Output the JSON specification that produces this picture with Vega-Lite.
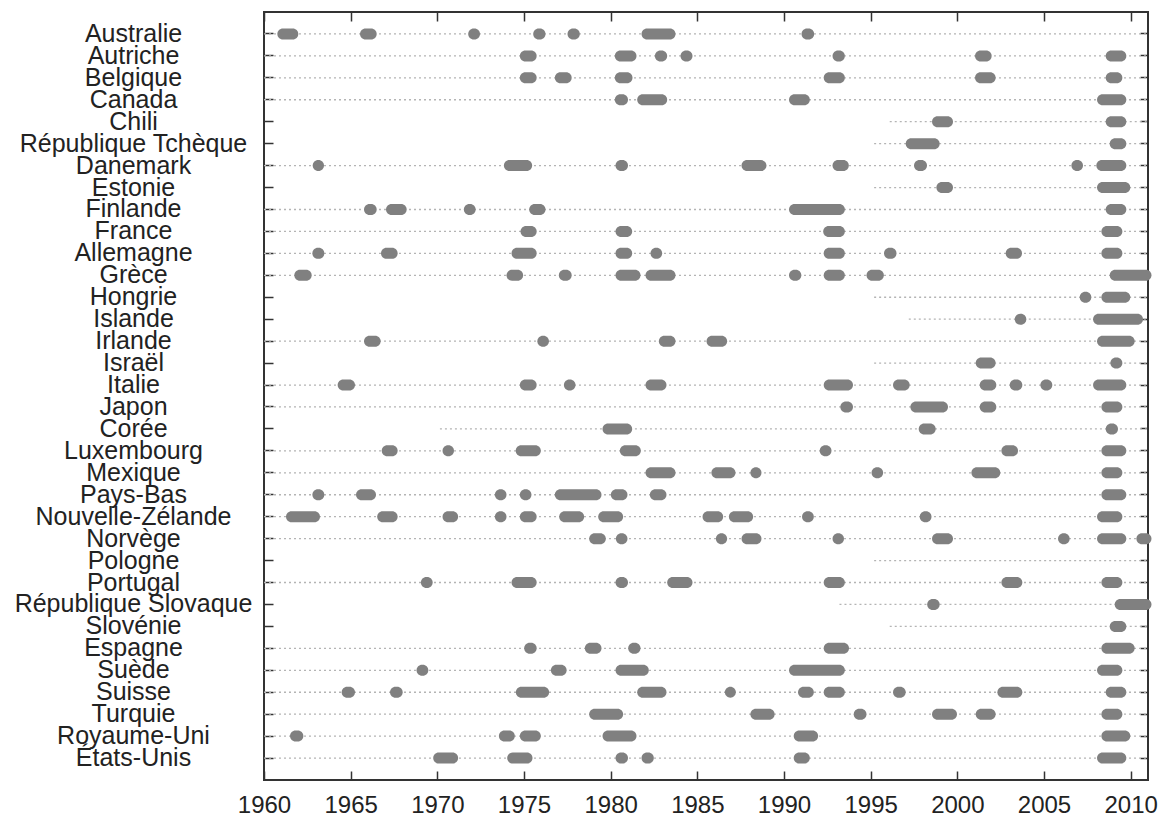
{
  "$schema": "https://vega.github.io/schema/vega-lite/v6.json",
  "width": 884,
  "height": 768,
  "autosize": {"type": "none"},
  "padding": {"left": 264, "top": 12, "right": 13, "bottom": 36},
  "background": "white",
  "config": {
    "font": "Liberation Sans",
    "view": {"stroke": "#333333", "strokeWidth": 2},
    "axis": {"grid": false, "domain": false, "title": null, "tickColor": "#333333", "tickWidth": 1.5, "labelColor": "#222222", "labelFont": "Liberation Sans"}
  },
  "datasets": {
    "avail": [
      {"country": "Australie", "start": 1960, "end": 2011},
      {"country": "Autriche", "start": 1960, "end": 2011},
      {"country": "Belgique", "start": 1960, "end": 2011},
      {"country": "Canada", "start": 1960, "end": 2011},
      {"country": "Chili", "start": 1996.1, "end": 2011},
      {"country": "République Tchèque", "start": 1995.2, "end": 2011},
      {"country": "Danemark", "start": 1960, "end": 2011},
      {"country": "Estonie", "start": 1995.2, "end": 2011},
      {"country": "Finlande", "start": 1960, "end": 2011},
      {"country": "France", "start": 1960, "end": 2011},
      {"country": "Allemagne", "start": 1960, "end": 2011},
      {"country": "Grèce", "start": 1960, "end": 2011},
      {"country": "Hongrie", "start": 1995.2, "end": 2011},
      {"country": "Islande", "start": 1997.2, "end": 2011},
      {"country": "Irlande", "start": 1960, "end": 2011},
      {"country": "Israël", "start": 1995.2, "end": 2011},
      {"country": "Italie", "start": 1960, "end": 2011},
      {"country": "Japon", "start": 1960, "end": 2011},
      {"country": "Corée", "start": 1970.15, "end": 2011},
      {"country": "Luxembourg", "start": 1960, "end": 2011},
      {"country": "Mexique", "start": 1960, "end": 2011},
      {"country": "Pays-Bas", "start": 1960, "end": 2011},
      {"country": "Nouvelle-Zélande", "start": 1960, "end": 2011},
      {"country": "Norvège", "start": 1960, "end": 2011},
      {"country": "Pologne", "start": 1995.2, "end": 2011},
      {"country": "Portugal", "start": 1960, "end": 2011},
      {"country": "République Slovaque", "start": 1993.2, "end": 2011},
      {"country": "Slovénie", "start": 1996.1, "end": 2011},
      {"country": "Espagne", "start": 1960, "end": 2011},
      {"country": "Suède", "start": 1960, "end": 2011},
      {"country": "Suisse", "start": 1960, "end": 2011},
      {"country": "Turquie", "start": 1960, "end": 2011},
      {"country": "Royaume-Uni", "start": 1960, "end": 2011},
      {"country": "États-Unis", "start": 1960, "end": 2011}
    ],
    "rec": [
      {"country": "Australie", "start": 1960.77, "end": 1961.98},
      {"country": "Australie", "start": 1965.54, "end": 1966.5},
      {"country": "Australie", "start": 1971.78, "end": 1972.46},
      {"country": "Australie", "start": 1975.53, "end": 1976.24},
      {"country": "Australie", "start": 1977.51, "end": 1978.22},
      {"country": "Australie", "start": 1981.78, "end": 1983.74},
      {"country": "Australie", "start": 1991.01, "end": 1991.74},
      {"country": "Autriche", "start": 1974.76, "end": 1975.73},
      {"country": "Autriche", "start": 1980.24, "end": 1981.49},
      {"country": "Autriche", "start": 1982.55, "end": 1983.26},
      {"country": "Autriche", "start": 1984.03, "end": 1984.72},
      {"country": "Autriche", "start": 1992.8, "end": 1993.51},
      {"country": "Autriche", "start": 2001.02, "end": 2001.98},
      {"country": "Autriche", "start": 2008.56, "end": 2009.75},
      {"country": "Belgique", "start": 1974.76, "end": 1975.73},
      {"country": "Belgique", "start": 1976.78, "end": 1977.75},
      {"country": "Belgique", "start": 1980.24, "end": 1981.26},
      {"country": "Belgique", "start": 1992.29, "end": 1993.51},
      {"country": "Belgique", "start": 2001.02, "end": 2002.21},
      {"country": "Belgique", "start": 2008.56, "end": 2009.52},
      {"country": "Canada", "start": 1980.24, "end": 1981.0},
      {"country": "Canada", "start": 1981.53, "end": 1983.26},
      {"country": "Canada", "start": 1990.29, "end": 1991.49},
      {"country": "Canada", "start": 2008.06, "end": 2009.75},
      {"country": "Chili", "start": 1998.54, "end": 1999.75},
      {"country": "Chili", "start": 2008.56, "end": 2009.75},
      {"country": "République Tchèque", "start": 1997.02, "end": 1998.98},
      {"country": "République Tchèque", "start": 2008.79, "end": 2009.75},
      {"country": "Danemark", "start": 1962.81, "end": 1963.46},
      {"country": "Danemark", "start": 1973.84, "end": 1975.47},
      {"country": "Danemark", "start": 1980.28, "end": 1981.0},
      {"country": "Danemark", "start": 1987.55, "end": 1988.99},
      {"country": "Danemark", "start": 1992.8, "end": 1993.74},
      {"country": "Danemark", "start": 1997.5, "end": 1998.25},
      {"country": "Danemark", "start": 2006.58, "end": 2007.25},
      {"country": "Danemark", "start": 2008.02, "end": 2009.75},
      {"country": "Estonie", "start": 1998.79, "end": 1999.75},
      {"country": "Estonie", "start": 2008.06, "end": 2009.98},
      {"country": "Finlande", "start": 1965.77, "end": 1966.5},
      {"country": "Finlande", "start": 1967.04, "end": 1968.23},
      {"country": "Finlande", "start": 1971.53, "end": 1972.21},
      {"country": "Finlande", "start": 1975.3, "end": 1976.24},
      {"country": "Finlande", "start": 1990.29, "end": 1993.51},
      {"country": "Finlande", "start": 2008.56, "end": 2009.75},
      {"country": "France", "start": 1974.8, "end": 1975.73},
      {"country": "France", "start": 1980.28, "end": 1981.24},
      {"country": "France", "start": 1992.26, "end": 1993.51},
      {"country": "France", "start": 2008.31, "end": 2009.52},
      {"country": "Allemagne", "start": 1962.79, "end": 1963.48},
      {"country": "Allemagne", "start": 1966.75, "end": 1967.71},
      {"country": "Allemagne", "start": 1974.28, "end": 1975.73},
      {"country": "Allemagne", "start": 1980.28, "end": 1981.24},
      {"country": "Allemagne", "start": 1982.3, "end": 1982.97},
      {"country": "Allemagne", "start": 1992.29, "end": 1993.51},
      {"country": "Allemagne", "start": 1995.77, "end": 1996.49},
      {"country": "Allemagne", "start": 2002.79, "end": 2003.73},
      {"country": "Allemagne", "start": 2008.31, "end": 2009.52},
      {"country": "Grèce", "start": 1961.75, "end": 1962.75},
      {"country": "Grèce", "start": 1973.99, "end": 1974.95},
      {"country": "Grèce", "start": 1977.01, "end": 1977.75},
      {"country": "Grèce", "start": 1980.28, "end": 1981.72},
      {"country": "Grèce", "start": 1982.01, "end": 1983.74},
      {"country": "Grèce", "start": 1990.29, "end": 1991.0},
      {"country": "Grèce", "start": 1992.29, "end": 1993.51},
      {"country": "Grèce", "start": 1994.76, "end": 1995.76},
      {"country": "Grèce", "start": 2008.79, "end": 2011.2},
      {"country": "Hongrie", "start": 2007.06, "end": 2007.73},
      {"country": "Hongrie", "start": 2008.31, "end": 2009.98},
      {"country": "Islande", "start": 2003.31, "end": 2003.98},
      {"country": "Islande", "start": 2007.83, "end": 2010.71},
      {"country": "Irlande", "start": 1965.77, "end": 1966.73},
      {"country": "Irlande", "start": 1975.77, "end": 1976.44},
      {"country": "Irlande", "start": 1982.78, "end": 1983.74},
      {"country": "Irlande", "start": 1985.53, "end": 1986.72},
      {"country": "Irlande", "start": 2008.06, "end": 2010.23},
      {"country": "Israël", "start": 2001.06, "end": 2002.21},
      {"country": "Israël", "start": 2008.83, "end": 2009.52},
      {"country": "Italie", "start": 1964.25, "end": 1965.25},
      {"country": "Italie", "start": 1974.76, "end": 1975.73},
      {"country": "Italie", "start": 1977.3, "end": 1977.97},
      {"country": "Italie", "start": 1982.01, "end": 1983.22},
      {"country": "Italie", "start": 1992.29, "end": 1993.98},
      {"country": "Italie", "start": 1996.29, "end": 1997.25},
      {"country": "Italie", "start": 2001.29, "end": 2002.25},
      {"country": "Italie", "start": 2003.02, "end": 2003.75},
      {"country": "Italie", "start": 2004.79, "end": 2005.48},
      {"country": "Italie", "start": 2007.83, "end": 2009.75},
      {"country": "Japon", "start": 1993.25, "end": 1993.98},
      {"country": "Japon", "start": 1997.29, "end": 1999.46},
      {"country": "Japon", "start": 2001.29, "end": 2002.25},
      {"country": "Japon", "start": 2008.31, "end": 2009.52},
      {"country": "Corée", "start": 1979.53, "end": 1981.24},
      {"country": "Corée", "start": 1997.77, "end": 1998.75},
      {"country": "Corée", "start": 2008.56, "end": 2009.27},
      {"country": "Luxembourg", "start": 1966.79, "end": 1967.71},
      {"country": "Luxembourg", "start": 1970.3, "end": 1970.96},
      {"country": "Luxembourg", "start": 1974.52, "end": 1975.97},
      {"country": "Luxembourg", "start": 1980.53, "end": 1981.74},
      {"country": "Luxembourg", "start": 1992.06, "end": 1992.74},
      {"country": "Luxembourg", "start": 2002.54, "end": 2003.5},
      {"country": "Luxembourg", "start": 2008.31, "end": 2009.75},
      {"country": "Mexique", "start": 1982.01, "end": 1983.74},
      {"country": "Mexique", "start": 1985.81, "end": 1987.2},
      {"country": "Mexique", "start": 1988.06, "end": 1988.7},
      {"country": "Mexique", "start": 1995.05, "end": 1995.72},
      {"country": "Mexique", "start": 2000.81, "end": 2002.48},
      {"country": "Mexique", "start": 2008.31, "end": 2009.52},
      {"country": "Pays-Bas", "start": 1962.79, "end": 1963.48},
      {"country": "Pays-Bas", "start": 1965.31, "end": 1966.46},
      {"country": "Pays-Bas", "start": 1973.32, "end": 1973.99},
      {"country": "Pays-Bas", "start": 1974.76, "end": 1975.43},
      {"country": "Pays-Bas", "start": 1976.78, "end": 1979.47},
      {"country": "Pays-Bas", "start": 1980.01, "end": 1980.97},
      {"country": "Pays-Bas", "start": 1982.26, "end": 1983.22},
      {"country": "Pays-Bas", "start": 2008.31, "end": 2009.75},
      {"country": "Nouvelle-Zélande", "start": 1961.27, "end": 1963.23},
      {"country": "Nouvelle-Zélande", "start": 1966.53, "end": 1967.71},
      {"country": "Nouvelle-Zélande", "start": 1970.3, "end": 1971.2},
      {"country": "Nouvelle-Zélande", "start": 1973.32, "end": 1973.99},
      {"country": "Nouvelle-Zélande", "start": 1974.76, "end": 1975.73},
      {"country": "Nouvelle-Zélande", "start": 1977.03, "end": 1978.47},
      {"country": "Nouvelle-Zélande", "start": 1979.28, "end": 1980.72},
      {"country": "Nouvelle-Zélande", "start": 1985.3, "end": 1986.49},
      {"country": "Nouvelle-Zélande", "start": 1986.82, "end": 1988.22},
      {"country": "Nouvelle-Zélande", "start": 1991.04, "end": 1991.72},
      {"country": "Nouvelle-Zélande", "start": 1997.83, "end": 1998.51},
      {"country": "Nouvelle-Zélande", "start": 2008.06, "end": 2009.52},
      {"country": "Norvège", "start": 1978.76, "end": 1979.72},
      {"country": "Norvège", "start": 1980.3, "end": 1980.97},
      {"country": "Norvège", "start": 1986.07, "end": 1986.72},
      {"country": "Norvège", "start": 1987.55, "end": 1988.7},
      {"country": "Norvège", "start": 1992.8, "end": 1993.46},
      {"country": "Norvège", "start": 1998.54, "end": 1999.75},
      {"country": "Norvège", "start": 2005.81, "end": 2006.48},
      {"country": "Norvège", "start": 2008.06, "end": 2009.75},
      {"country": "Norvège", "start": 2010.33, "end": 2011.2},
      {"country": "Portugal", "start": 1969.05, "end": 1969.73},
      {"country": "Portugal", "start": 1974.28, "end": 1975.73},
      {"country": "Portugal", "start": 1980.28, "end": 1981.0},
      {"country": "Portugal", "start": 1983.26, "end": 1984.72},
      {"country": "Portugal", "start": 1992.29, "end": 1993.51},
      {"country": "Portugal", "start": 2002.54, "end": 2003.75},
      {"country": "Portugal", "start": 2008.31, "end": 2009.52},
      {"country": "République Slovaque", "start": 1998.26, "end": 1998.98},
      {"country": "République Slovaque", "start": 2009.08, "end": 2011.2},
      {"country": "Slovénie", "start": 2008.79, "end": 2009.75},
      {"country": "Espagne", "start": 1975.01, "end": 1975.73},
      {"country": "Espagne", "start": 1978.51, "end": 1979.47},
      {"country": "Espagne", "start": 1981.01, "end": 1981.72},
      {"country": "Espagne", "start": 1992.29, "end": 1993.75},
      {"country": "Espagne", "start": 2008.31, "end": 2010.23},
      {"country": "Suède", "start": 1968.8, "end": 1969.48},
      {"country": "Suède", "start": 1976.55, "end": 1977.46},
      {"country": "Suède", "start": 1980.28, "end": 1982.2},
      {"country": "Suède", "start": 1990.29, "end": 1993.51},
      {"country": "Suède", "start": 2008.06, "end": 2009.52},
      {"country": "Suisse", "start": 1964.48, "end": 1965.25},
      {"country": "Suisse", "start": 1967.27, "end": 1968.0},
      {"country": "Suisse", "start": 1974.53, "end": 1976.45},
      {"country": "Suisse", "start": 1981.53, "end": 1983.22},
      {"country": "Suisse", "start": 1986.59, "end": 1987.22},
      {"country": "Suisse", "start": 1990.81, "end": 1991.72},
      {"country": "Suisse", "start": 1992.29, "end": 1993.51},
      {"country": "Suisse", "start": 1996.29, "end": 1997.02},
      {"country": "Suisse", "start": 2002.31, "end": 2003.75},
      {"country": "Suisse", "start": 2008.56, "end": 2009.75},
      {"country": "Turquie", "start": 1978.76, "end": 1980.72},
      {"country": "Turquie", "start": 1988.06, "end": 1989.46},
      {"country": "Turquie", "start": 1994.02, "end": 1994.76},
      {"country": "Turquie", "start": 1998.54, "end": 1999.98},
      {"country": "Turquie", "start": 2001.06, "end": 2002.21},
      {"country": "Turquie", "start": 2008.31, "end": 2009.52},
      {"country": "Royaume-Uni", "start": 1961.5, "end": 1962.27},
      {"country": "Royaume-Uni", "start": 1973.55, "end": 1974.47},
      {"country": "Royaume-Uni", "start": 1974.76, "end": 1975.97},
      {"country": "Royaume-Uni", "start": 1979.53, "end": 1981.49},
      {"country": "Royaume-Uni", "start": 1990.56, "end": 1991.97},
      {"country": "Royaume-Uni", "start": 2008.31, "end": 2009.98},
      {"country": "États-Unis", "start": 1969.76, "end": 1971.2},
      {"country": "États-Unis", "start": 1974.03, "end": 1975.49},
      {"country": "États-Unis", "start": 1980.28, "end": 1981.0},
      {"country": "États-Unis", "start": 1981.78, "end": 1982.49},
      {"country": "États-Unis", "start": 1990.56, "end": 1991.49},
      {"country": "États-Unis", "start": 2008.06, "end": 2009.75}
    ]
  },
  "layer": [
    {
      "data": {"name": "avail"},
      "mark": {"type": "rule", "color": "#b4b4b4", "strokeWidth": 1.3, "strokeDash": [2, 3]},
      "encoding": {
        "y": {
          "field": "country", "type": "nominal",
          "sort": ["Australie","Autriche","Belgique","Canada","Chili","République Tchèque","Danemark","Estonie","Finlande","France","Allemagne","Grèce","Hongrie","Islande","Irlande","Israël","Italie","Japon","Corée","Luxembourg","Mexique","Pays-Bas","Nouvelle-Zélande","Norvège","Pologne","Portugal","République Slovaque","Slovénie","Espagne","Suède","Suisse","Turquie","Royaume-Uni","États-Unis"],
          "scale": {"paddingInner": 0, "paddingOuter": 0.5},
          "axis": {"orient": "left", "tickSize": -9, "labelFontSize": 25, "labelAlign": "center", "labelBaseline": "middle", "labelPadding": 140, "labelLimit": 400}
        },
        "x": {
          "field": "start", "type": "quantitative",
          "scale": {"domain": [1960, 2011], "nice": false, "zero": false},
          "axis": {"orient": "bottom", "values": [1960,1965,1970,1975,1980,1985,1990,1995,2000,2005,2010], "format": "d", "tickSize": -9, "labelFontSize": 24, "labelPadding": 22, "labelFlush": false, "labelOverlap": false}
        },
        "x2": {"field": "end"}
      }
    },
    {
      "data": {"name": "rec"},
      "mark": {"type": "bar", "height": 11, "cornerRadius": 5.5, "color": "#808080"},
      "encoding": {
        "y": {
          "field": "country", "type": "nominal",
          "sort": ["Australie","Autriche","Belgique","Canada","Chili","République Tchèque","Danemark","Estonie","Finlande","France","Allemagne","Grèce","Hongrie","Islande","Irlande","Israël","Italie","Japon","Corée","Luxembourg","Mexique","Pays-Bas","Nouvelle-Zélande","Norvège","Pologne","Portugal","République Slovaque","Slovénie","Espagne","Suède","Suisse","Turquie","Royaume-Uni","États-Unis"],
          "axis": {"orient": "right", "labels": false, "tickSize": -8}
        },
        "x": {
          "field": "start", "type": "quantitative",
          "axis": {"orient": "top", "labels": false, "values": [1960,1965,1970,1975,1980,1985,1990,1995,2000,2005,2010], "tickSize": -9}
        },
        "x2": {"field": "end"}
      }
    }
  ],
  "resolve": {"axis": {"x": "independent", "y": "independent"}}
}
